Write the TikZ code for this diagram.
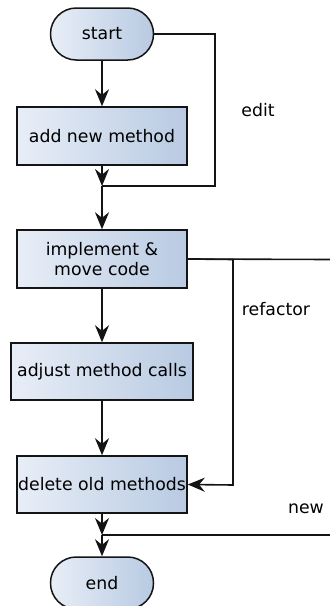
\documentclass[tikz,border=0pt]{standalone}
\usepackage{fontspec}
\setmainfont{DejaVu Sans}
\usetikzlibrary{arrows.meta}
\definecolor{boxL}{HTML}{E8EEF7}
\definecolor{boxR}{HTML}{B8CAE2}
\definecolor{ink}{HTML}{141414}
\tikzset{
  px/.style={x=0.5pt,y=-0.5pt},
  procbox/.style={draw=ink,line width=0.75pt,left color=boxL,right color=boxR,
    rectangle,inner sep=0pt,align=center,font=\fontsize{8.65}{10}\selectfont},
  termbox/.style={procbox,rounded corners=12.9pt,minimum width=51.5pt,minimum height=26pt},
  flow/.style={draw=ink,line width=0.8pt},
  arr/.style={flow,-{Stealth[length=8.5pt,width=7pt,inset=2.8pt]}},
  lbl/.style={font=\fontsize{8.65}{10}\selectfont,inner sep=0pt}
}
\begin{document}
\begin{tikzpicture}[px]
\useasboundingbox (0,0) rectangle (330,606);
\node[termbox] (start) at (102,34) {start};
\node[procbox,minimum width=85pt,minimum height=29pt] (add) at (102,136) {add new method};
\node[procbox,minimum width=85pt,minimum height=29pt] (impl) at (102,259) {implement \&\\move code};
\node[procbox,minimum width=91pt,minimum height=28.5pt] (adjust) at (102,371.5) {adjust method calls};
\node[procbox,minimum width=85pt,minimum height=28.5pt] (del) at (102,484.5) {delete old methods};
\node[termbox] (end) at (102,583) {end};
\coordinate (j1) at (102,186);
\coordinate (j2) at (102,535);
\coordinate (e1) at (215,34);
\coordinate (e2) at (215,186);
\coordinate (r1) at (233,259.5);
\coordinate (r2) at (233,485);
\coordinate (r3) at (330,259.5);
\coordinate (n1) at (330,535);
\node[lbl] (edit) at (258,110) {edit};
\node[lbl] (refactor) at (276,309) {refactor};
\node[lbl] (new) at (306,509) {new};
\draw[arr] (start) -- (add);
\draw[arr] (add) -- (j1);
\draw[flow] (start.east) -- (e1) -- (e2) -- (j1);
\draw[arr] (j1) -- (impl);
\draw[arr] (impl) -- (adjust);
\draw[arr] (adjust) -- (del);
\draw[flow] (impl.east) -- (r3);
\draw[arr] (impl.east) -- (r1) -- (r2) -- (del.east);
\draw[arr] (del) -- (j2);
\draw[flow] (n1) -- (j2);
\draw[arr] (j2) -- (end);
\end{tikzpicture}
\end{document}
